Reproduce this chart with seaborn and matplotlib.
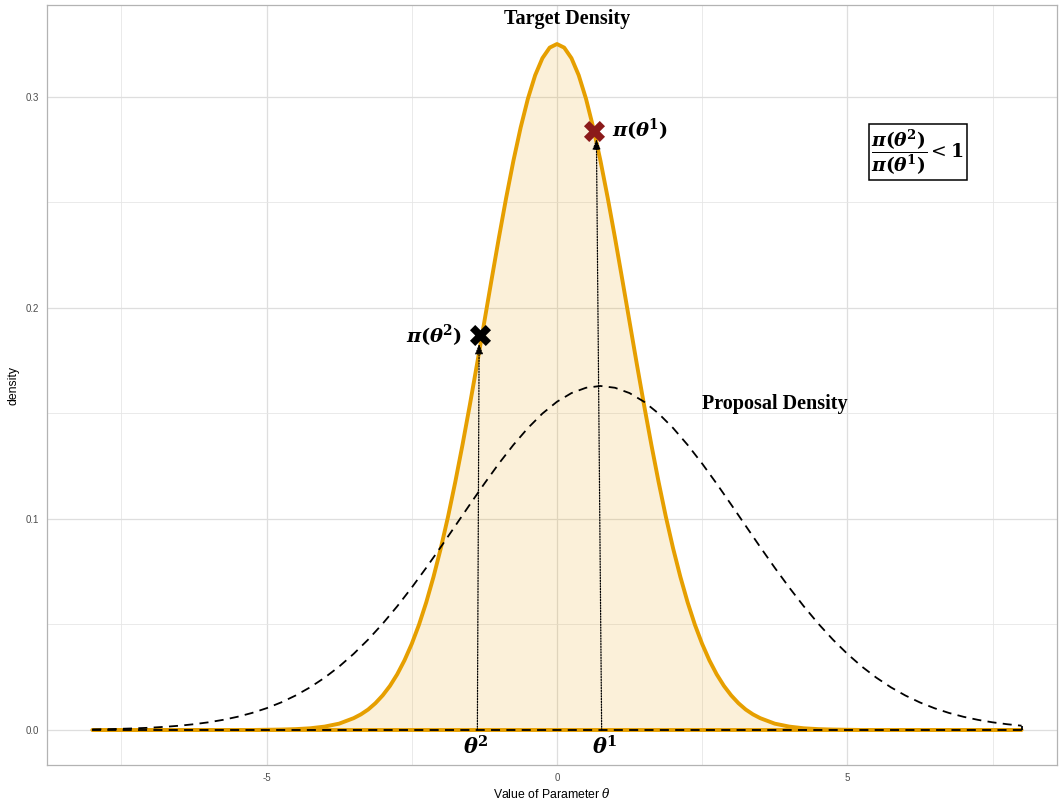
import numpy as np
import pandas as pd
import matplotlib
matplotlib.use("Agg")
import matplotlib.pyplot as plt
import seaborn as sns
from matplotlib.ticker import MultipleLocator

# --- dati ---
# densita' target: passo fine al centro, code piatte
target_theta = [
    -8.0, -5.25, -5.0, -4.75, -4.5, -4.25, -4.0, -3.75, -3.5, -3.375,
    -3.25, -3.125, -3.0, -2.875, -2.75, -2.625, -2.5, -2.375, -2.25, -2.125,
    -2.0, -1.875, -1.75, -1.625, -1.5, -1.375, -1.25, -1.125, -1.0, -0.875,
    -0.75, -0.625, -0.5, -0.375, -0.25, -0.125, 0.0,
    0.125, 0.25, 0.375, 0.5, 0.625, 0.75, 0.875, 1.0, 1.125,
    1.25, 1.375, 1.5, 1.625, 1.75, 1.875, 2.0, 2.125, 2.25, 2.375,
    2.5, 2.625, 2.75, 2.875, 3.0, 3.125, 3.25, 3.375, 3.5, 3.75,
    4.0, 4.25, 4.5, 4.75, 5.0, 5.25, 8.0,
]
target_density = [
    0.0, 0.0, 0.0001, 0.0002, 0.0004, 0.0008, 0.0016, 0.0030, 0.0056, 0.0074,
    0.0097, 0.0127, 0.0164, 0.0209, 0.0264, 0.0330, 0.0408, 0.0499, 0.0605, 0.0726,
    0.0861, 0.1011, 0.1176, 0.1353, 0.1540, 0.1735, 0.1935, 0.2135, 0.2332, 0.2521,
    0.2697, 0.2855, 0.2992, 0.3103, 0.3184, 0.3234, 0.3251,
    0.3234, 0.3184, 0.3103, 0.2992, 0.2855, 0.2697, 0.2521, 0.2332, 0.2135,
    0.1935, 0.1735, 0.1540, 0.1353, 0.1176, 0.1011, 0.0861, 0.0726, 0.0605, 0.0499,
    0.0408, 0.0330, 0.0264, 0.0209, 0.0164, 0.0127, 0.0097, 0.0074, 0.0056, 0.0030,
    0.0016, 0.0008, 0.0004, 0.0002, 0.0001, 0.0, 0.0,
]

proposal_theta = np.linspace(-8, 8, 65)  # passo 0.25
proposal_density = [
    0.00027, 0.00039, 0.00056, 0.00078, 0.00108, 0.00149, 0.00202, 0.00273,
    0.00363, 0.00479, 0.00625, 0.00807, 0.01031, 0.01304, 0.01633, 0.02022,
    0.02478, 0.03006, 0.03608, 0.04286, 0.05039, 0.05862, 0.06750, 0.07690,
    0.08671, 0.09675, 0.10683, 0.11674, 0.12626, 0.13511, 0.14310, 0.14998,
    0.15556, 0.15967, 0.16219, 0.16304, 0.16219, 0.15967, 0.15556, 0.14998,
    0.14310, 0.13511, 0.12626, 0.11674, 0.10683, 0.09675, 0.08671, 0.07690,
    0.06750, 0.05862, 0.05039, 0.04286, 0.03608, 0.03006, 0.02478, 0.02022,
    0.01633, 0.01304, 0.01031, 0.00807, 0.00625, 0.00479, 0.00363, 0.00273,
    0.00202,
]

# theta^1 (attuale) e theta^2 (proposto)
point_x = [0.64, -1.325]
point_y = [0.284, 0.187]
point_colors = ["#8B1A1A", "black"]
arrow_base_x = [0.77, -1.37]
arrow_tip_x = [0.68, -1.34]
arrow_tip_y = [0.280, 0.183]

df_t = pd.DataFrame({"theta": target_theta, "density": target_density})
df_p = pd.DataFrame({"theta": proposal_theta, "density": proposal_density})

orange = "#E69F00"

sns.set_theme(style="whitegrid")
plt.rcParams["font.family"] = ["Liberation Sans", "DejaVu Sans"]
plt.rcParams["text.color"] = "black"
plt.rcParams["axes.labelcolor"] = "black"
plt.rcParams["axes.unicode_minus"] = False
plt.rcParams["mathtext.fontset"] = "custom"
plt.rcParams["mathtext.rm"] = "DejaVu Serif"
plt.rcParams["mathtext.it"] = "DejaVu Serif:italic"
plt.rcParams["mathtext.bf"] = "DejaVu Serif:bold"
plt.rcParams["mathtext.bfit"] = "DejaVu Serif:italic:bold"

fig = plt.figure(figsize=(10.59, 8), dpi=100)
ax = fig.add_axes([47 / 1059, 35 / 800, 1010 / 1059, 760 / 800])

# --- densita' target (area riempita) ---
ax.fill_between(df_t["theta"], 0, df_t["density"], color=orange, alpha=0.15, lw=0, zorder=2)
sns.lineplot(data=df_t, x="theta", y="density", color=orange, lw=2.8, ax=ax,
             sort=False, zorder=3)
ax.hlines(0, df_t["theta"].min(), df_t["theta"].max(), color=orange, lw=2.8, zorder=3)

# --- densita' proposta (tratteggiata) ---
sns.lineplot(data=df_p, x="theta", y="density", color="black", lw=1.3, ax=ax,
             sort=False, zorder=4)
ax.lines[-1].set_dashes((5, 3.5))
ax.plot([df_p["theta"].iloc[-1], df_p["theta"].iloc[-1]], [df_p["density"].iloc[-1], 0],
        color="black", lw=1.3, dashes=(5, 3.5), zorder=4)
ax.hlines(0, df_p["theta"].min(), df_p["theta"].max(), color="black", lw=1.3,
          linestyles=(0, (5, 3.5)), zorder=4)

# --- frecce punteggiate e punti ---
for bx, tx, ty in zip(arrow_base_x, arrow_tip_x, arrow_tip_y):
    ax.annotate("", xy=(tx, ty), xytext=(bx, 0),
                arrowprops=dict(arrowstyle="-|>,head_length=0.5,head_width=0.2",
                                color="black", lw=0.9, ls=(0, (1, 1.2)),
                                shrinkA=0, shrinkB=0), zorder=5)
for px, py, pc in zip(point_x, point_y, point_colors):
    ax.scatter(px, py, marker="X", s=230, color=pc, linewidths=0, zorder=6)

# --- testi ---
pi1 = r"\mathbfit{\pi}\mathbf{(}\mathbfit{\theta}^{\mathbf{1}}\mathbf{)}"
pi2 = r"\mathbfit{\pi}\mathbf{(}\mathbfit{\theta}^{\mathbf{2}}\mathbf{)}"
ax.text(0.17, 0.3372, "Target Density", family="Liberation Serif", weight="bold",
        fontsize=14.5, ha="center", va="center")
ax.text(3.75, 0.1545, "Proposal Density", family="Liberation Serif", weight="bold",
        fontsize=14.5, ha="center", va="center")
ax.text(0.95, 0.2845, "$" + pi1 + "$", fontsize=14, ha="left", va="center")
ax.text(-1.63, 0.1865, "$" + pi2 + "$", fontsize=14, ha="right", va="center")
ax.text(-1.4, -0.0082, r"$\mathbfit{\theta}^{\mathbf{2}}$", fontsize=15,
        ha="center", va="center")
ax.text(0.82, -0.0082, r"$\mathbfit{\theta}^{\mathbf{1}}$", fontsize=15,
        ha="center", va="center")
ax.text(6.21, 0.274, r"$\dfrac{" + pi2 + "}{" + pi1 + r"} < \mathbf{1}$",
        fontsize=13.5, ha="center", va="center",
        bbox=dict(boxstyle="square,pad=0.15", fc="white", ec="black", lw=1.1))

# --- assi ---
ax.set_xlim(-8.78, 8.61)
ax.set_ylim(-0.0166, 0.3436)
ax.xaxis.set_major_locator(MultipleLocator(5))
ax.xaxis.set_minor_locator(MultipleLocator(2.5))
ax.yaxis.set_major_locator(MultipleLocator(0.1))
ax.yaxis.set_minor_locator(MultipleLocator(0.05))
ax.yaxis.set_major_formatter(matplotlib.ticker.FormatStrFormatter("%.1f"))
ax.grid(which="major", color="#DEDEDE", lw=0.9)
ax.grid(which="minor", color="#E6E6E6", lw=0.6)
ax.set_axisbelow(True)
for s in ax.spines.values():
    s.set_color("#B3B3B3")
    s.set_linewidth(0.9)
ax.tick_params(axis="both", which="major", length=3, width=0.6, color="#B3B3B3",
               labelsize=7, labelcolor="#4D4D4D", pad=2.5)
ax.tick_params(axis="both", which="minor", length=0)
ax.set_xlabel(r"Value of Parameter $\theta$", fontsize=8.8, labelpad=3)
ax.set_ylabel("density", fontsize=8.8, labelpad=5)

fig.savefig("out.png", dpi=100)
